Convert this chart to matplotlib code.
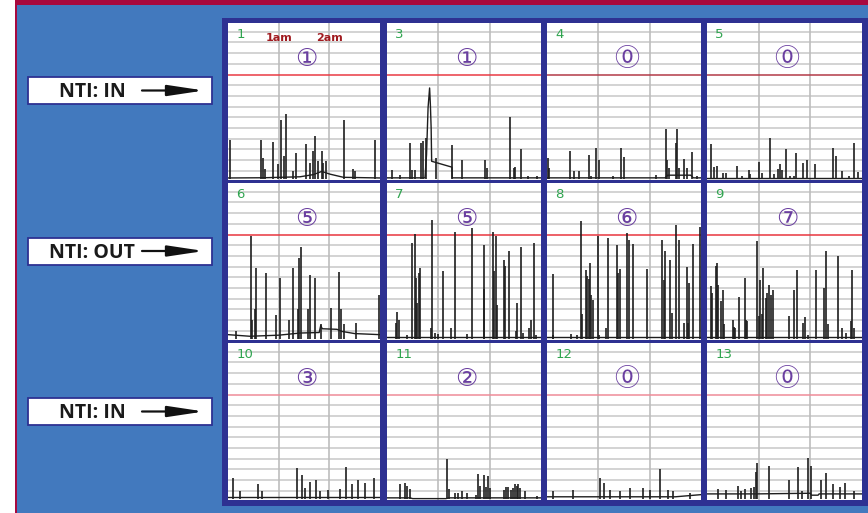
import matplotlib
matplotlib.use("Agg")
import matplotlib.pyplot as plt
from matplotlib.patches import Rectangle

# ---------------- data ----------------
row_labels = ["NTI: IN", "NTI: OUT", "NTI: IN"]
panel_numbers = [1, 3, 4, 5, 6, 7, 8, 9, 10, 11, 12, 13]
event_counts = [1, 1, 0, 0, 5, 5, 6, 7, 3, 2, 0, 0]
hour_ticks = [1, 2]
hour_labels = ["1am", "2am"]
threshold = 10

# panel 1
p1_t = [0.03, 0.65, 0.70, 0.74, 0.89, 0.98, 1.05, 1.11, 1.14, 1.28, 1.34, 1.54, 1.61, 1.67,
        1.72, 1.78, 1.85, 1.88, 1.93, 2.29, 2.47, 2.51, 2.91]
p1_h = [3.9, 3.9, 2.2, 1.2, 3.7, 1.6, 5.8, 2.4, 6.3, 1.0, 2.7, 3.55, 1.75, 2.85,
        4.25, 1.9, 2.85, 1.75, 1.9, 5.75, 1.2, 1.0, 3.9]
p1_bx = [0, 0.7, 1.42, 1.68, 1.85, 2.01, 2.28, 3.0]
p1_by = [0.34, 0.36, 0.45, 0.65, 0.95, 0.7, 0.4, 0.34]
# panel 3
p3_t = [0.10, 0.25, 0.44, 0.48, 0.55, 0.66, 0.71, 0.75, 0.95, 1.27, 1.46, 1.90, 1.94, 2.40,
        2.48, 2.50, 2.61, 2.74, 2.93]
p3_h = [1.1, 0.65, 3.6, 1.1, 1.1, 3.6, 3.8, 4.1, 2.2, 3.4, 2.0, 2.0, 1.3, 6.0,
        1.3, 1.4, 3.0, 0.55, 0.55]
p3_bx = [0, 0.74, 0.77, 0.80, 0.83, 0.845, 0.86, 0.87, 1.265, 1.27, 3.0]
p3_by = [0.35, 0.35, 2.5, 6.9, 8.75, 7.2, 5.0, 1.9, 1.35, 0.35, 0.35]
# panel 4
p4_t = [0.01, 0.03, 0.45, 0.52, 0.63, 0.81, 0.86, 0.96, 1.01, 1.28, 1.44, 1.50, 2.12, 2.31,
        2.33, 2.37, 2.52, 2.54, 2.58, 2.67, 2.73, 2.82, 2.93]
p4_h = [2.2, 1.3, 2.85, 0.95, 0.95, 2.45, 0.5, 3.15, 2.0, 0.5, 3.1, 2.3, 0.65, 4.95,
        2.0, 1.3, 3.6, 4.9, 1.3, 2.15, 1.3, 2.75, 0.55]
p4_bx = [0, 2.3, 2.35, 2.8, 2.85, 3.0]
p4_by = [0.35, 0.35, 0.6, 0.6, 0.35, 0.35]
# panel 5
p5_t = [0.08, 0.14, 0.20, 0.31, 0.37, 0.59, 0.68, 0.82, 0.84, 1.01, 1.07, 1.22, 1.29, 1.37,
        1.41, 1.45, 1.53, 1.61, 1.69, 1.73, 1.86, 1.93, 2.09, 2.44, 2.50, 2.61, 2.74, 2.85, 2.92]
p5_h = [3.5, 1.4, 1.5, 0.8, 0.85, 1.5, 0.5, 1.1, 0.7, 1.8, 0.8, 4.1, 0.7, 1.2,
        1.6, 1.1, 3.0, 0.5, 0.55, 2.7, 1.75, 2.0, 1.6, 3.1, 2.4, 1.0, 0.55, 3.6, 0.9]
p5_bx = [0, 3.0]
p5_by = [0.35, 0.35]
# panel 6
p6_t = [0.15, 0.45, 0.47, 0.53, 0.55, 0.75, 0.95, 1.03, 1.21, 1.29, 1.39, 1.395, 1.44, 1.57,
        1.62, 1.72, 1.83, 2.04, 2.19, 2.24, 2.29, 2.52, 2.99]
p6_h = [0.95, 9.85, 2.05, 3.0, 6.9, 6.4, 2.5, 5.95, 2.0, 6.9, 3.0, 7.8, 8.85, 3.05,
        6.2, 5.95, 1.6, 3.15, 6.55, 3.0, 1.6, 1.75, 4.4]
p6_bx = [0, 0.43, 1.0, 1.42, 1.8, 1.83, 1.86, 2.15, 2.25, 2.5, 3.0]
p6_by = [0.65, 0.5, 0.6, 0.8, 0.85, 1.5, 1.2, 1.15, 0.95, 0.75, 0.65]
# panel 7
p7_t = [0.17, 0.19, 0.24, 0.39, 0.48, 0.54, 0.57, 0.58, 0.63, 0.65, 0.86, 0.88, 0.94, 0.99,
        1.09, 1.25, 1.33, 1.56, 1.66, 1.88, 1.89, 2.07, 2.08, 2.12, 2.14, 2.28, 2.30, 2.38,
        2.51, 2.53, 2.62, 2.65, 2.77, 2.80, 2.87, 2.90]
p7_h = [1.75, 2.75, 2.05, 0.65, 9.2, 10.1, 5.9, 3.6, 6.4, 6.9, 1.25, 11.4, 0.8, 0.75,
        6.6, 1.25, 10.2, 0.75, 10.6, 9.0, 4.9, 10.25, 6.6, 9.85, 3.4, 7.65, 7.05, 8.45,
        0.95, 3.6, 8.85, 0.8, 1.25, 2.05, 9.2, 0.65]
p7_bx = [0, 3.0]
p7_by = [0.45, 0.45]
# panel 8
p8_t = [0.11, 0.12, 0.46, 0.58, 0.67, 0.69, 0.75, 0.78, 0.81, 0.83, 0.86, 0.90, 0.99, 1.02,
        1.14, 1.18, 1.37, 1.39, 1.43, 1.56, 1.59, 1.68, 1.95, 2.25, 2.27, 2.29, 2.40, 2.43,
        2.51, 2.58, 2.66, 2.72, 2.74, 2.76, 2.84, 2.99]
p8_h = [6.3, 0.65, 0.75, 0.65, 11.25, 2.6, 6.65, 6.1, 5.85, 7.35, 4.4, 3.85, 9.85, 0.65,
        1.3, 9.7, 9.05, 6.4, 6.8, 10.15, 9.45, 9.15, 6.8, 9.45, 5.8, 8.45, 7.6, 2.7,
        10.9, 9.45, 1.75, 7.0, 1.7, 5.5, 9.1, 10.75]
p8_bx = [0, 3.0]
p8_by = [0.4, 0.4]
# panel 9
p9_t = [0.07, 0.09, 0.17, 0.20, 0.22, 0.28, 0.31, 0.32, 0.50, 0.52, 0.54, 0.61, 0.73, 0.76,
        0.78, 0.97, 1.01, 1.03, 1.06, 1.08, 1.15, 1.17, 1.20, 1.24, 1.27, 1.58, 1.68, 1.75,
        1.86, 1.90, 1.95, 2.10, 2.26, 2.30, 2.35, 2.53, 2.61, 2.69, 2.79, 2.80, 2.84]
p9_h = [5.2, 4.5, 7.05, 7.35, 5.25, 3.8, 4.85, 1.6, 2.05, 1.4, 1.3, 4.2, 5.95, 2.05,
        1.9, 9.4, 2.4, 5.8, 2.55, 6.9, 4.1, 4.5, 5.3, 4.4, 4.85, 2.4, 4.85, 6.65,
        1.75, 2.3, 0.65, 6.65, 5.0, 8.5, 1.6, 8.0, 1.3, 0.8, 1.9, 6.7, 1.3]
p9_bx = [0, 3.0]
p9_by = [0.4, 0.4]
# panel 10
p10_t = [0.10, 0.24, 0.59, 0.67, 1.36, 1.46, 1.52, 1.62, 1.74, 1.81, 1.97, 2.21, 2.33, 2.45,
         2.56, 2.70, 2.88]
p10_h = [2.2, 1.0, 1.6, 1.0, 3.1, 2.5, 1.3, 1.8, 2.0, 1.0, 1.1, 1.2, 3.2, 1.6,
         2.0, 1.7, 2.2]
p10_bx = [0, 3.0]
p10_by = [0.4, 0.4]
# panel 11
p11_t = [0.25, 0.35, 0.39, 0.44, 1.17, 1.20, 1.33, 1.39, 1.46, 1.56, 1.73, 1.78, 1.81, 1.89,
         1.92, 1.97, 2.01, 2.28, 2.31, 2.36, 2.41, 2.46, 2.49, 2.53, 2.56, 2.59, 2.69, 2.93]
p11_h = [1.6, 1.7, 1.45, 1.2, 4.0, 1.2, 0.8, 0.85, 0.95, 0.8, 0.65, 2.6, 1.5, 2.5,
         1.4, 2.4, 1.3, 1.1, 1.4, 1.4, 1.1, 1.3, 1.65, 1.5, 1.6, 1.3, 1.0, 0.55]
p11_bx = [0, 0.45, 0.5, 1.15, 1.2, 3.0]
p11_by = [0.35, 0.35, 0.28, 0.28, 0.35, 0.35]
# panel 12
p12_t = [0.12, 0.51, 1.03, 1.11, 1.23, 1.42, 1.62, 1.87, 2.01, 2.20, 2.36, 2.46, 2.79]
p12_h = [0.95, 1.1, 2.2, 1.7, 1.1, 0.95, 1.3, 1.3, 1.1, 3.0, 1.1, 0.95, 0.85]
p12_bx = [0, 2.5, 3.0]
p12_by = [0.45, 0.45, 0.65]
# panel 13
p13_t = [0.22, 0.37, 0.60, 0.65, 0.73, 0.86, 0.90, 0.95, 0.97, 1.20, 1.59, 1.77, 1.84, 1.95,
         2.01, 2.20, 2.30, 2.44, 2.58, 2.67, 2.84]
p13_h = [1.2, 1.1, 1.5, 1.0, 1.2, 1.3, 1.4, 2.8, 3.6, 3.3, 2.05, 3.2, 0.95, 4.1,
         3.3, 2.0, 2.7, 1.6, 1.4, 1.7, 0.95]
p13_bx = [0, 0.95, 2.0, 2.02, 2.15, 2.17, 3.0]
p13_by = [0.72, 0.72, 0.78, 0.6, 0.6, 0.72, 0.72]

spike_t = [p1_t, p3_t, p4_t, p5_t, p6_t, p7_t, p8_t, p9_t, p10_t, p11_t, p12_t, p13_t]
spike_h = [p1_h, p3_h, p4_h, p5_h, p6_h, p7_h, p8_h, p9_h, p10_h, p11_h, p12_h, p13_h]
base_x = [p1_bx, p3_bx, p4_bx, p5_bx, p6_bx, p7_bx, p8_bx, p9_bx, p10_bx, p11_bx, p12_bx, p13_bx]
base_y = [p1_by, p3_by, p4_by, p5_by, p6_by, p7_by, p8_by, p9_by, p10_by, p11_by, p12_by, p13_by]

# ---------------- style ----------------
W, H = 868, 513
BLUE = "#4279BE"
NAVY = "#2E3192"
CRIMSON = "#A8093E"
GREEN = "#2FA44F"
PURPLE = "#6A3FA0"
DARKRED = "#A01A1F"
GRID = "#C8C8C8"
VGRID = "#BDBDBD"
TRACE = "#1E1E1E"
RED_COLORS = ["#EA3A44", "#EA3A44", "#B33A48", "#B33A48",
              "#E8363F", "#E8363F", "#E8363F", "#E8363F",
              "#EF8C98", "#EF8C98", "#EF8C98", "#EF8C98"]
COLS = [(228, 380), (387, 541), (547, 701), (707, 862)]
ROW_TOPS = [23, 183, 343]
PANEL_H = 157
YLIM = (0.15, 14.82)


def circled(n):
    return "\u24EA" if n == 0 else chr(0x2460 + n - 1)


fig = plt.figure(figsize=(W / 100, H / 100), dpi=100, facecolor="white")

bg = fig.add_axes([0, 0, 1, 1])
bg.set_xlim(0, W)
bg.set_ylim(H, 0)
bg.axis("off")
bg.add_patch(Rectangle((15, 0), W - 15, 5, color=CRIMSON, lw=0))
bg.add_patch(Rectangle((15, 0), 2, H, color=CRIMSON, lw=0))
bg.add_patch(Rectangle((17, 5), W - 17, H - 5, color=BLUE, lw=0))
bg.add_patch(Rectangle((222, 18), W - 222, 488, color=NAVY, lw=0))

for i, lab in enumerate(row_labels):
    by = 77 + 160.5 * i
    bg.add_patch(Rectangle((28, by), 184, 27, facecolor="white", edgecolor=NAVY, lw=1.3))
    bg.text(92, by + 20.3, lab, ha="center", va="baseline", fontsize=14,
            fontweight="bold", family=["Open Sans", "DejaVu Sans"], color="#1a1a1a")
    bg.annotate("", xy=(204, by + 13.5), xytext=(142, by + 13.5),
                arrowprops=dict(arrowstyle="-|>,head_length=2.2,head_width=0.33",
                                color="#111111", lw=1.6, shrinkA=0, shrinkB=0))

for k in range(12):
    r, c = divmod(k, 4)
    x0, x1 = COLS[c]
    top = ROW_TOPS[r]
    ax = fig.add_axes([x0 / W, 1 - (top + PANEL_H) / H, (x1 - x0) / W, PANEL_H / H])
    ax.set_facecolor("white")
    for s in ax.spines.values():
        s.set_visible(False)
    ax.set_xticks([])
    ax.set_yticks([])
    ax.set_xlim(0, 3)
    ax.set_ylim(*YLIM)
    for yv in range(1, 15):
        if yv != threshold:
            ax.axhline(yv, color=GRID, lw=1.1, zorder=0.5)
    for xv in hour_ticks:
        ax.axvline(xv, color=VGRID, lw=1.2, zorder=0.6)
    ax.axhline(threshold, color=RED_COLORS[k], lw=1.1, zorder=0.7)
    ax.plot(base_x[k], base_y[k], color=TRACE, lw=1.0, zorder=3)
    ax.vlines(spike_t[k], 0.2, spike_h[k], color=TRACE, lw=1.2, zorder=3)
    ax.text(0.16, 13.75, str(panel_numbers[k]), color=GREEN, fontsize=9.5,
            ha="left", va="center")
    ax.text(1.55, 11.45, circled(event_counts[k]), color=PURPLE, fontsize=18,
            ha="center", va="center", family=["DejaVu Sans", "Noto Sans CJK SC"])
    if k == 0:
        for xv, hl in zip(hour_ticks, hour_labels):
            ax.text(xv, 13.4, hl, color=DARKRED, fontsize=8, fontweight="bold",
                    ha="center", va="center")

fig.savefig("out.png", dpi=100, facecolor="white")
